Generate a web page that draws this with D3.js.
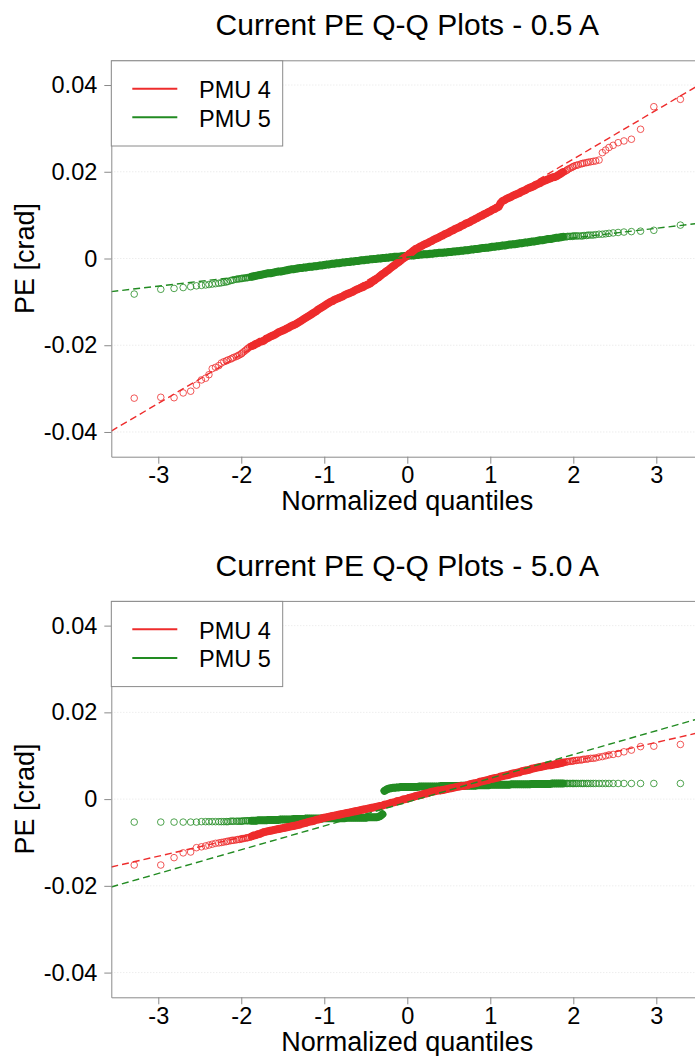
<!DOCTYPE html>
<html>
<head>
<meta charset="utf-8">
<script src="https://cdn.jsdelivr.net/npm/d3@7"></script>
<style>
  html, body { margin: 0; padding: 0; background: #fff; }
  svg { display: block; font-family: "Liberation Sans", Arial, Helvetica, sans-serif; }
</style>
</head>
<body>
<svg id="chart" width="695" height="1056"></svg>
<script>
// Theoretical normal quantiles of the plotted order statistics (n = 1000):
// every point in the tails, the dense middle thinned to a 0.025 step.
const normQuantiles = [
  -3.29,-2.97,-2.81,-2.7,-2.61,-2.54,-2.48,-2.43,-2.39,-2.35,-2.31,-2.27,-2.24,-2.21,-2.18,-2.16,-2.13,-2.11,-2.09,-2.06,-2.04,-2.02,-2,-1.99,-1.97,-1.95,-1.93,-1.92,-1.9,
  -1.875,-1.85,-1.825,-1.8,-1.775,-1.75,-1.725,-1.7,-1.675,-1.65,
  -1.625,-1.6,-1.575,-1.55,-1.525,-1.5,-1.475,-1.45,-1.425,-1.4,
  -1.375,-1.35,-1.325,-1.3,-1.275,-1.25,-1.225,-1.2,-1.175,-1.15,
  -1.125,-1.1,-1.075,-1.05,-1.025,-1,-0.975,-0.95,-0.925,-0.9,
  -0.875,-0.85,-0.825,-0.8,-0.775,-0.75,-0.725,-0.7,-0.675,-0.65,
  -0.625,-0.6,-0.575,-0.55,-0.525,-0.5,-0.475,-0.45,-0.425,-0.4,
  -0.375,-0.35,-0.325,-0.3,-0.275,-0.25,-0.225,-0.2,-0.175,-0.15,
  -0.125,-0.1,-0.075,-0.05,-0.025,0,0.025,0.05,0.075,0.1,
  0.125,0.15,0.175,0.2,0.225,0.25,0.275,0.3,0.325,0.35,
  0.375,0.4,0.425,0.45,0.475,0.5,0.525,0.55,0.575,0.6,
  0.625,0.65,0.675,0.7,0.725,0.75,0.775,0.8,0.825,0.85,
  0.875,0.9,0.925,0.95,0.975,1,1.025,1.05,1.075,1.1,
  1.125,1.15,1.175,1.2,1.225,1.25,1.275,1.3,1.325,1.35,
  1.375,1.4,1.425,1.45,1.475,1.5,1.525,1.55,1.575,1.6,
  1.625,1.65,1.675,1.7,1.725,1.75,1.775,1.8,1.825,1.85,
  1.875,
  1.9,1.92,1.93,1.95,1.97,1.99,2,2.02,2.04,2.06,2.09,2.11,2.13,2.16,2.18,2.21,2.24,2.27,2.31,2.35,2.39,2.43,2.48,2.54,2.61,2.7,2.81,2.97,3.29
];
// Quantile span of the thinned middle, where markers pile up into a solid band
const denseSpan = [-1.875, 1.875];

// Sorted phase errors [crad] at those quantiles — 0.5 A test
const pmu4At05 = [
  -0.0322,-0.0320,-0.0321,-0.0310,-0.0306,-0.0292,-0.0280,-0.0276,-0.0268,-0.0254,-0.0251,-0.0247,-0.0241,-0.0238,-0.0236,-0.0234,-0.0232,-0.0230,-0.0228,-0.0226,-0.0224,-0.0222,-0.0220,-0.0218,-0.0215,-0.0212,-0.0209,-0.0207,-0.0204,
  -0.0202,-0.0200,-0.0197,-0.0195,-0.0192,-0.0191,-0.0189,-0.0185,-0.0183,-0.0180,
  -0.0178,-0.0176,-0.0173,-0.0170,-0.0168,-0.0166,-0.0164,-0.0161,-0.0159,-0.0156,
  -0.0154,-0.0152,-0.0149,-0.0146,-0.0143,-0.0140,-0.0137,-0.0134,-0.0131,-0.0128,
  -0.0125,-0.0122,-0.0118,-0.0115,-0.0112,-0.0109,-0.0106,-0.0103,-0.0100,-0.0098,
  -0.0095,-0.0093,-0.0091,-0.0089,-0.0087,-0.0084,-0.0082,-0.0080,-0.0078,-0.0076,
  -0.0073,-0.0071,-0.0069,-0.0067,-0.0065,-0.0062,-0.0060,-0.0058,-0.0054,-0.0051,
  -0.0047,-0.0044,-0.0040,-0.0036,-0.0033,-0.0029,-0.0026,-0.0022,-0.0018,-0.0015,
  -0.0011,-0.0008,-0.0004,0.0000,0.0003,0.0007,0.0011,0.0014,0.0018,0.0022,
  0.0024,0.0027,0.0029,0.0032,0.0034,0.0036,0.0039,0.0041,0.0044,0.0046,
  0.0048,0.0051,0.0053,0.0056,0.0058,0.0060,0.0063,0.0065,0.0068,0.0070,
  0.0072,0.0075,0.0077,0.0080,0.0082,0.0084,0.0087,0.0089,0.0092,0.0094,
  0.0097,0.0099,0.0102,0.0104,0.0107,0.0109,0.0112,0.0114,0.0117,0.0119,
  0.0128,0.0133,0.0135,0.0138,0.0140,0.0142,0.0145,0.0147,0.0149,0.0151,
  0.0154,0.0156,0.0158,0.0161,0.0163,0.0165,0.0167,0.0170,0.0172,0.0174,
  0.0177,0.0179,0.0181,0.0183,0.0185,0.0187,0.0188,0.0190,0.0193,0.0196,
  0.0199,
  0.0201,0.0203,0.0205,0.0207,0.0209,0.0211,0.0212,0.0214,0.0215,0.0216,0.0218,0.0219,0.0220,0.0221,0.0222,0.0223,0.0224,0.0225,0.0227,0.0244,0.0250,0.0256,0.0261,0.0267,0.0271,0.0275,0.0298,0.0350,0.0367
];
const pmu5At05 = [
  -0.0082,-0.0071,-0.0069,-0.0067,-0.0065,-0.0063,-0.0062,-0.0061,-0.0060,-0.0059,-0.0058,-0.0057,-0.0056,-0.0055,-0.0054,-0.0053,-0.0051,-0.0050,-0.0049,-0.0048,-0.0047,-0.0047,-0.0046,-0.0046,-0.0045,-0.0045,-0.0044,-0.0044,-0.0043,
  -0.0042,-0.0041,-0.0040,-0.0039,-0.0038,-0.0037,-0.0036,-0.0035,-0.0034,-0.0034,
  -0.0033,-0.0032,-0.0031,-0.0030,-0.0030,-0.0029,-0.0028,-0.0027,-0.0026,-0.0025,
  -0.0025,-0.0024,-0.0023,-0.0022,-0.0022,-0.0021,-0.0021,-0.0020,-0.0019,-0.0019,
  -0.0018,-0.0018,-0.0017,-0.0016,-0.0016,-0.0015,-0.0014,-0.0014,-0.0013,-0.0012,
  -0.0012,-0.0011,-0.0011,-0.0010,-0.0009,-0.0009,-0.0008,-0.0008,-0.0007,-0.0007,
  -0.0006,-0.0006,-0.0005,-0.0004,-0.0004,-0.0003,-0.0003,-0.0002,-0.0002,-0.0001,
  -0.0001,0.0000,0.0000,0.0001,0.0001,0.0002,0.0002,0.0003,0.0003,0.0004,
  0.0004,0.0004,0.0005,0.0005,0.0006,0.0006,0.0007,0.0007,0.0007,0.0008,
  0.0008,0.0009,0.0009,0.0010,0.0010,0.0010,0.0011,0.0011,0.0012,0.0012,
  0.0013,0.0013,0.0013,0.0014,0.0014,0.0015,0.0015,0.0016,0.0016,0.0017,
  0.0017,0.0018,0.0018,0.0019,0.0019,0.0020,0.0021,0.0021,0.0022,0.0022,
  0.0023,0.0024,0.0024,0.0025,0.0025,0.0026,0.0027,0.0027,0.0028,0.0028,
  0.0029,0.0030,0.0030,0.0031,0.0032,0.0032,0.0033,0.0033,0.0034,0.0035,
  0.0035,0.0036,0.0037,0.0037,0.0038,0.0039,0.0039,0.0040,0.0041,0.0042,
  0.0042,0.0043,0.0044,0.0045,0.0045,0.0046,0.0047,0.0048,0.0048,0.0049,
  0.0050,
  0.0050,0.0050,0.0051,0.0051,0.0051,0.0051,0.0052,0.0052,0.0052,0.0052,0.0052,0.0052,0.0053,0.0053,0.0054,0.0054,0.0054,0.0055,0.0056,0.0056,0.0057,0.0058,0.0059,0.0060,0.0061,0.0062,0.0063,0.0065,0.0077
];

// Sorted phase errors [crad] at those quantiles — 5.0 A test
const pmu4At50 = [
  -0.0152,-0.0152,-0.0135,-0.0124,-0.0122,-0.0112,-0.0110,-0.0108,-0.0106,-0.0104,-0.0102,-0.0101,-0.0100,-0.0099,-0.0098,-0.0097,-0.0096,-0.0095,-0.0095,-0.0094,-0.0093,-0.0093,-0.0092,-0.0091,-0.0091,-0.0090,-0.0089,-0.0089,-0.0088,
  -0.0086,-0.0084,-0.0083,-0.0081,-0.0080,-0.0078,-0.0076,-0.0075,-0.0074,-0.0073,
  -0.0072,-0.0071,-0.0070,-0.0069,-0.0068,-0.0067,-0.0066,-0.0065,-0.0064,-0.0063,
  -0.0062,-0.0061,-0.0060,-0.0059,-0.0057,-0.0056,-0.0055,-0.0053,-0.0052,-0.0051,
  -0.0050,-0.0048,-0.0047,-0.0046,-0.0044,-0.0043,-0.0042,-0.0041,-0.0040,-0.0039,
  -0.0038,-0.0037,-0.0036,-0.0035,-0.0034,-0.0033,-0.0032,-0.0031,-0.0030,-0.0029,
  -0.0028,-0.0027,-0.0026,-0.0025,-0.0024,-0.0023,-0.0022,-0.0021,-0.0020,-0.0019,
  -0.0018,-0.0017,-0.0016,-0.0015,-0.0013,-0.0012,-0.0011,-0.0009,-0.0008,-0.0007,
  -0.0005,-0.0004,-0.0003,-0.0001,0.0000,0.0001,0.0003,0.0004,0.0005,0.0007,
  0.0008,0.0009,0.0010,0.0012,0.0013,0.0014,0.0016,0.0017,0.0018,0.0019,
  0.0020,0.0020,0.0021,0.0022,0.0023,0.0024,0.0025,0.0026,0.0027,0.0028,
  0.0029,0.0030,0.0030,0.0031,0.0032,0.0034,0.0035,0.0036,0.0037,0.0038,
  0.0040,0.0041,0.0042,0.0043,0.0044,0.0046,0.0047,0.0048,0.0049,0.0050,
  0.0052,0.0053,0.0054,0.0055,0.0056,0.0058,0.0059,0.0060,0.0061,0.0062,
  0.0064,0.0065,0.0066,0.0067,0.0068,0.0070,0.0071,0.0072,0.0073,0.0074,
  0.0075,0.0076,0.0077,0.0078,0.0078,0.0079,0.0080,0.0081,0.0082,0.0083,
  0.0084,
  0.0085,0.0086,0.0086,0.0087,0.0087,0.0088,0.0088,0.0089,0.0089,0.0090,0.0090,0.0091,0.0092,0.0092,0.0093,0.0094,0.0094,0.0095,0.0097,0.0098,0.0100,0.0102,0.0103,0.0105,0.0109,0.0113,0.0121,0.0122,0.0126
];
const pmu5At50 = [
  -0.0053,-0.0053,-0.0053,-0.0053,-0.0053,-0.0053,-0.0052,-0.0052,-0.0052,-0.0052,-0.0052,-0.0052,-0.0052,-0.0052,-0.0052,-0.0052,-0.0051,-0.0051,-0.0051,-0.0051,-0.0051,-0.0051,-0.0051,-0.0051,-0.0050,-0.0050,-0.0050,-0.0050,-0.0050,
  -0.0050,-0.0050,-0.0050,-0.0049,-0.0049,-0.0049,-0.0049,-0.0049,-0.0048,-0.0048,
  -0.0048,-0.0048,-0.0048,-0.0048,-0.0047,-0.0047,-0.0047,-0.0047,-0.0047,-0.0047,
  -0.0046,-0.0046,-0.0046,-0.0046,-0.0046,-0.0046,-0.0045,-0.0045,-0.0045,-0.0045,
  -0.0045,-0.0045,-0.0045,-0.0045,-0.0045,-0.0044,-0.0044,-0.0044,-0.0044,-0.0044,
  -0.0044,-0.0044,-0.0044,-0.0044,-0.0044,-0.0044,-0.0043,-0.0043,-0.0043,-0.0043,
  -0.0043,-0.0043,-0.0043,-0.0043,-0.0043,-0.0043,-0.0042,-0.0042,-0.0042,-0.0042,
  -0.0042,-0.0041,-0.0039,-0.0035,0.0019,0.0022,0.0024,0.0025,0.0026,0.0026,
  0.0027,0.0027,0.0028,0.0028,0.0028,0.0028,0.0028,0.0028,0.0028,0.0028,
  0.0028,0.0029,0.0029,0.0029,0.0029,0.0029,0.0029,0.0029,0.0029,0.0029,
  0.0029,0.0030,0.0030,0.0030,0.0030,0.0030,0.0030,0.0030,0.0030,0.0030,
  0.0030,0.0031,0.0031,0.0031,0.0031,0.0031,0.0031,0.0031,0.0031,0.0032,
  0.0032,0.0032,0.0032,0.0032,0.0032,0.0033,0.0033,0.0033,0.0033,0.0033,
  0.0033,0.0033,0.0033,0.0033,0.0033,0.0034,0.0034,0.0034,0.0034,0.0034,
  0.0034,0.0034,0.0034,0.0034,0.0034,0.0035,0.0035,0.0035,0.0035,0.0035,
  0.0035,0.0035,0.0035,0.0035,0.0035,0.0036,0.0036,0.0036,0.0036,0.0036,
  0.0036,
  0.0036,0.0036,0.0036,0.0036,0.0036,0.0036,0.0036,0.0036,0.0036,0.0036,0.0036,0.0036,0.0036,0.0036,0.0036,0.0036,0.0036,0.0036,0.0036,0.0036,0.0036,0.0036,0.0036,0.0036,0.0036,0.0036,0.0036,0.0036,0.0036
];

// Reference lines: sample values at the first and third theoretical quartiles
const quartileQ = [-0.6745, 0.6745];
const pmu4Fit05 = [-0.0072, 0.0080];
const pmu5Fit05 = [-0.0012, 0.0018];
const pmu4Fit50 = [-0.0030, 0.0029];
const pmu5Fit50 = [-0.0044, 0.0030];

// Axes
const xLimits = [-3.566, 3.566];
const yLimits = [-0.0457, 0.0457];
const xTicks = [-3, -2, -1, 0, 1, 2, 3];
const yTicks = [-0.04, -0.02, 0, 0.02, 0.04];
const yTickLabels = ["-0.04", "-0.02", "0", "0.02", "0.04"];
const xAxisTitle = "Normalized quantiles";
const yAxisTitle = "PE [crad]";

const seriesNames = ["PMU 4", "PMU 5"];
const seriesColors = ["#ee2c2c", "#228b22"];
const panelTitles = ["Current PE Q-Q Plots - 0.5 A", "Current PE Q-Q Plots - 5.0 A"];

const panels = [
  { title: panelTitles[0], values: [pmu4At05, pmu5At05], fits: [pmu4Fit05, pmu5Fit05] },
  { title: panelTitles[1], values: [pmu4At50, pmu5At50], fits: [pmu4Fit50, pmu5Fit50] }
];

// ---- layout ----
const plotLeft = 111.3, plotWidth = 592, plotHeight = 396.4;
const panelTops = [60.3, 600.9];
const axisColor = "#8a8a8a";
const tickFont = 23.5, titleFont = 30, labelFont = 27;
const markerR = 3.3, markerStroke = 0.8;

const svg = d3.select("#chart");
const x = d3.scaleLinear().domain(xLimits).range([plotLeft, plotLeft + plotWidth]);
const y = d3.scaleLinear().domain(yLimits).range([plotHeight, 0]);

// Pixel runs of the dense middle, broken where the sample jumps
function denseRuns(pts) {
  const runs = [];
  let cur = [];
  pts.filter(d => d[0] >= denseSpan[0] && d[0] <= denseSpan[1]).forEach(d => {
    const p = [x(d[0]), y(d[1])];
    if (cur.length && Math.abs(p[1] - cur[cur.length - 1][1]) > 6) { runs.push(cur); cur = []; }
    cur.push(p);
  });
  if (cur.length) runs.push(cur);
  return runs;
}

panels.forEach((panel, pi) => {
  const g = svg.append("g").attr("transform", `translate(0,${panelTops[pi]})`);
  const clipId = "plot-clip-" + pi;
  g.append("clipPath").attr("id", clipId)
    .append("rect").attr("x", plotLeft).attr("y", 0).attr("width", plotWidth).attr("height", plotHeight);

  // horizontal dotted grid
  g.append("g").selectAll("line").data(yTicks).join("line")
    .attr("x1", plotLeft).attr("x2", plotLeft + plotWidth)
    .attr("y1", d => y(d)).attr("y2", d => y(d))
    .attr("stroke", "#dedede").attr("stroke-width", 0.8).attr("stroke-dasharray", "1,2");

  // top frame edge
  g.append("line")
    .attr("x1", plotLeft).attr("x2", plotLeft + plotWidth)
    .attr("y1", 0.5).attr("y2", 0.5)
    .attr("stroke", axisColor).attr("stroke-width", 1);

  const plot = g.append("g").attr("clip-path", `url(#${clipId})`);
  const lineGen = d3.line();

  // sample points: PMU 5 underneath, PMU 4 on top
  [1, 0].forEach(si => {
    const pts = d3.zip(normQuantiles, panel.values[si]);
    const sg = plot.append("g");
    // overlapping markers of the dense middle merge into a solid band
    sg.selectAll("path").data(denseRuns(pts)).join("path")
      .attr("d", lineGen)
      .attr("fill", "none").attr("stroke", seriesColors[si])
      .attr("stroke-width", 2 * markerR + markerStroke + 0.6)
      .attr("stroke-linecap", "round").attr("stroke-linejoin", "round");
    sg.selectAll("circle").data(pts).join("circle")
      .attr("cx", d => x(d[0])).attr("cy", d => y(d[1])).attr("r", markerR)
      .attr("fill", "none").attr("stroke", seriesColors[si]).attr("stroke-width", markerStroke);
  });

  // dashed quartile reference lines
  [0, 1].forEach(si => {
    const f = panel.fits[si];
    const slope = (f[1] - f[0]) / (quartileQ[1] - quartileQ[0]);
    const at = q => f[0] + slope * (q - quartileQ[0]);
    plot.append("line")
      .attr("x1", x(xLimits[0])).attr("y1", y(at(xLimits[0])))
      .attr("x2", x(xLimits[1])).attr("y2", y(at(xLimits[1])))
      .attr("stroke", seriesColors[si]).attr("stroke-width", 1.4)
      .attr("stroke-dasharray", "7,4");
  });

  // axes
  const yAxis = g.append("g").attr("transform", `translate(${plotLeft},0)`)
    .call(d3.axisLeft(y).tickValues(yTicks).tickFormat((d, i) => yTickLabels[i])
      .tickSize(7).tickSizeOuter(0).tickPadding(7));
  const xAxis = g.append("g").attr("transform", `translate(0,${plotHeight})`)
    .call(d3.axisBottom(x).tickValues(xTicks).tickFormat(d => String(d))
      .tickSize(7).tickSizeOuter(0).tickPadding(3));
  [yAxis, xAxis].forEach(a => {
    a.attr("font-family", null).attr("font-size", null);
    a.select(".domain").attr("stroke", axisColor).attr("stroke-width", 1);
    a.selectAll(".tick line").attr("stroke", axisColor).attr("stroke-width", 1);
    a.selectAll(".tick text").attr("fill", "#000").style("font-size", tickFont + "px");
  });

  // titles
  g.append("text")
    .attr("x", plotLeft + plotWidth / 2).attr("y", -25.3)
    .attr("text-anchor", "middle").style("font-size", titleFont + "px").attr("fill", "#000")
    .text(panel.title);
  g.append("text")
    .attr("x", plotLeft + plotWidth / 2).attr("y", plotHeight + 53.3)
    .attr("text-anchor", "middle").style("font-size", labelFont + "px").attr("fill", "#000")
    .text(xAxisTitle);
  g.append("text")
    .attr("transform", `translate(33.5,${plotHeight / 2}) rotate(-90)`)
    .attr("text-anchor", "middle").style("font-size", labelFont + "px").attr("fill", "#000")
    .text(yAxisTitle);

  // legend
  const lg = g.append("g");
  lg.append("rect")
    .attr("x", plotLeft).attr("y", 0.5).attr("width", 171.4).attr("height", 85.2)
    .attr("fill", "#fff").attr("stroke", axisColor).attr("stroke-width", 1);
  seriesNames.forEach((name, si) => {
    const cy = 28.4 + si * 28.6;
    lg.append("line")
      .attr("x1", plotLeft + 21).attr("x2", plotLeft + 66)
      .attr("y1", cy).attr("y2", cy)
      .attr("stroke", seriesColors[si]).attr("stroke-width", 2);
    lg.append("text")
      .attr("x", plotLeft + 87.7).attr("y", cy + 9.6)
      .style("font-size", tickFont + "px").attr("fill", "#000")
      .text(name);
  });
});
</script>
</body>
</html>
